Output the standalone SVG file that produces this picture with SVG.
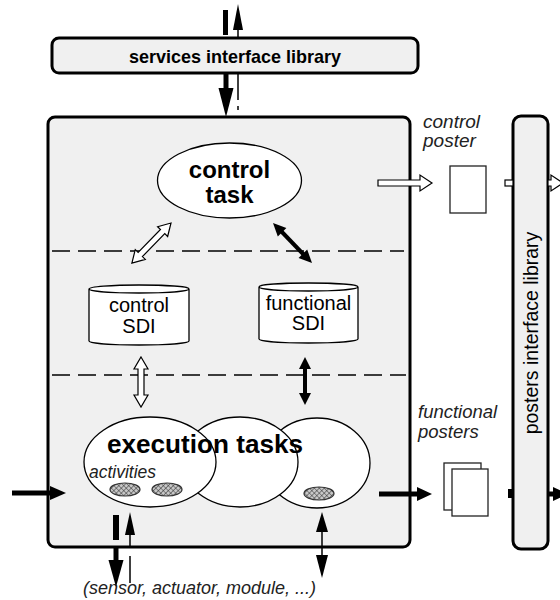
<svg xmlns="http://www.w3.org/2000/svg" width="560" height="600" viewBox="0 0 560 600">
<defs>
<style>
.box{fill:#f0f0f0;stroke:#000;stroke-width:3}
.shape{fill:#fff;stroke:#000;stroke-width:1.3}
.dash{fill:none;stroke:#000;stroke-width:1.5;stroke-dasharray:18 8}
.blk{fill:#000;stroke:none}
.thick{stroke:#000;fill:none}
.hollow{fill:#fff;stroke:#000;stroke-width:1.2}
.sans{font-family:"Liberation Sans",Arial,sans-serif}
.bold{font-weight:bold}
.ital{font-style:italic;fill:#222}
.mid{text-anchor:middle}
.doc{fill:#fff;stroke:#222;stroke-width:1.3}
.act{fill:url(#hatch);stroke:#333;stroke-width:1.2}
</style>
<pattern id="hatch" width="3.5" height="3.5" patternUnits="userSpaceOnUse" patternTransform="rotate(45)">
<rect width="3.5" height="3.5" fill="#c8c8c8"/>
<path d="M0,0 H3.5 M0,0 V3.5" stroke="#2a2a2a" stroke-width="1"/>
</pattern>
</defs>
<rect width="560" height="600" fill="#fff"/>

<g id="services-interface-library">
<rect class="box" x="52" y="38" width="366" height="35" rx="7"/>
<text class="sans bold mid" x="235" y="63" font-size="19" textLength="212" lengthAdjust="spacingAndGlyphs">services interface library</text>
</g>

<g id="main-module">
<rect class="box" x="48" y="117" width="362" height="430" rx="7"/>
<line class="dash" x1="52" y1="251" x2="404" y2="251"/>
<line class="dash" x1="52" y1="375" x2="406" y2="375"/>
</g>

<g id="posters-interface-library">
<rect class="box" x="513" y="116" width="35" height="433" rx="8"/>
<text class="sans mid" transform="translate(538,333) rotate(-90)" font-size="19.5">posters interface library</text>
</g>

<g id="control-task">
<ellipse class="shape" cx="229.5" cy="180.5" rx="72" ry="37.5"/>
<text class="sans bold mid" x="229.5" y="178" font-size="24">control</text>
<text class="sans bold mid" x="229.5" y="203" font-size="24">task</text>
</g>

<g id="control-sdi">
<path class="shape" d="M89,289 V341 A50,4 0 0 0 189,341 V289 A50,4 0 0 0 89,289 A50,4 0 0 0 189,289"/>
<text class="sans mid" x="139" y="312" font-size="20">control</text>
<text class="sans mid" x="139" y="333" font-size="20">SDI</text>
</g>

<g id="functional-sdi">
<path class="shape" d="M259,287 V339 A49.5,4 0 0 0 358,339 V287 A49.5,4 0 0 0 259,287 A49.5,4 0 0 0 358,287"/>
<text class="sans mid" x="308.5" y="310" font-size="20">functional</text>
<text class="sans mid" x="308.5" y="330" font-size="20">SDI</text>
</g>

<g id="execution-tasks">
<ellipse class="shape" cx="317" cy="463" rx="53" ry="45"/>
<ellipse class="shape" cx="240" cy="462" rx="58" ry="45"/>
<ellipse class="shape" cx="150" cy="462" rx="66" ry="45"/>
<text class="sans bold" x="107" y="453" font-size="25" textLength="196" lengthAdjust="spacingAndGlyphs">execution tasks</text>
<text class="sans ital" x="89" y="478" font-size="17.5">activities</text>
<ellipse class="act" cx="125" cy="489.5" rx="15" ry="6.5"/>
<ellipse class="act" cx="167" cy="489.5" rx="15" ry="6.5"/>
<ellipse class="act" cx="319" cy="493.5" rx="15" ry="6.5"/>
</g>

<g id="control-poster">
<text class="sans ital" x="423" y="128" font-size="19">control</text>
<text class="sans ital" x="423" y="147" font-size="19">poster</text>
<rect class="doc" x="450" y="166" width="36" height="47"/>
</g>

<g id="functional-posters">
<text class="sans ital" x="418" y="418" font-size="18.5">functional</text>
<text class="sans ital" x="418" y="438" font-size="18.5">posters</text>
<rect class="doc" x="444" y="463" width="37" height="47"/>
<rect class="doc" x="452" y="469" width="36" height="47"/>
</g>

<g id="io-label">
<text class="sans ital" x="83" y="594" font-size="18">(sensor, actuator, module, ...)</text>
</g>

<g id="connectors">
<line class="thick" x1="225.5" y1="10" x2="225.5" y2="35" stroke-width="5"/>
<line class="thick" x1="238" y1="28" x2="238" y2="38" stroke-width="1.5"/>
<polygon class="blk" points="233,30 238,4 243,30"/>
<line class="thick" x1="226" y1="74" x2="226" y2="90" stroke-width="5"/>
<polygon class="blk" points="218.5,88 233.5,88 226,117"/>
<line class="thick" x1="238" y1="74" x2="238" y2="110" stroke-width="1.5" stroke-dasharray="26 6 4 100"/>
<polygon class="hollow" transform="translate(171,223) rotate(134.3)" points="0,0 12,-7 12,-3 44,-3 44,-7 56,0 44,7 44,3 12,3 12,7"/>
<line class="thick" x1="281" y1="231" x2="304" y2="255" stroke-width="4"/>
<polygon class="blk" points="273,223 277.8,236.5 286.4,228.1"/>
<polygon class="blk" points="312,263 298.6,257.9 307.2,249.5"/>
<polygon class="hollow" transform="translate(141,357) rotate(90)" points="0,0 12,-7 12,-3 38,-3 38,-7 50,0 38,7 38,3 12,3 12,7"/>
<line class="thick" x1="305" y1="368" x2="305" y2="394" stroke-width="4"/>
<polygon class="blk" points="299,369 305,357 311,369"/>
<polygon class="blk" points="299,393 305,405 311,393"/>
<polygon class="hollow" points="378,180 420,180 420,175 432,183 420,191 420,186 378,186"/>
<rect class="hollow" x="505" y="180" width="8" height="6"/>
<polygon class="hollow" points="548,180 551,180 551,175 563,183 551,191 551,186 548,186"/>
<line class="thick" x1="12" y1="493" x2="52" y2="493" stroke-width="5"/>
<polygon class="blk" points="50,486 66,493 50,500"/>
<line class="thick" x1="379" y1="494" x2="419" y2="494" stroke-width="5"/>
<polygon class="blk" points="417,487 432,494 417,501"/>
<rect class="blk" x="508" y="489" width="6" height="9"/>
<line class="thick" x1="547" y1="494" x2="555" y2="494" stroke-width="5"/>
<polygon class="blk" points="553,487 568,494 553,501"/>
<line class="thick" x1="116" y1="515" x2="116" y2="540" stroke-width="6"/>
<line class="thick" x1="116" y1="548" x2="116" y2="562" stroke-width="5"/>
<polygon class="blk" points="108.5,560 123.5,560 116,587"/>
<polygon class="blk" points="125,535 130,512 135,535"/>
<line class="thick" x1="130" y1="534" x2="130" y2="548" stroke-width="1.5"/>
<line class="thick" x1="130" y1="556" x2="130" y2="583" stroke-width="1.5"/>
<line class="thick" x1="322" y1="530" x2="322" y2="557" stroke-width="1.5"/>
<polygon class="blk" points="316,532 322,512 328,532"/>
<polygon class="blk" points="316,555 322,578 328,555"/>
</g>
</svg>
